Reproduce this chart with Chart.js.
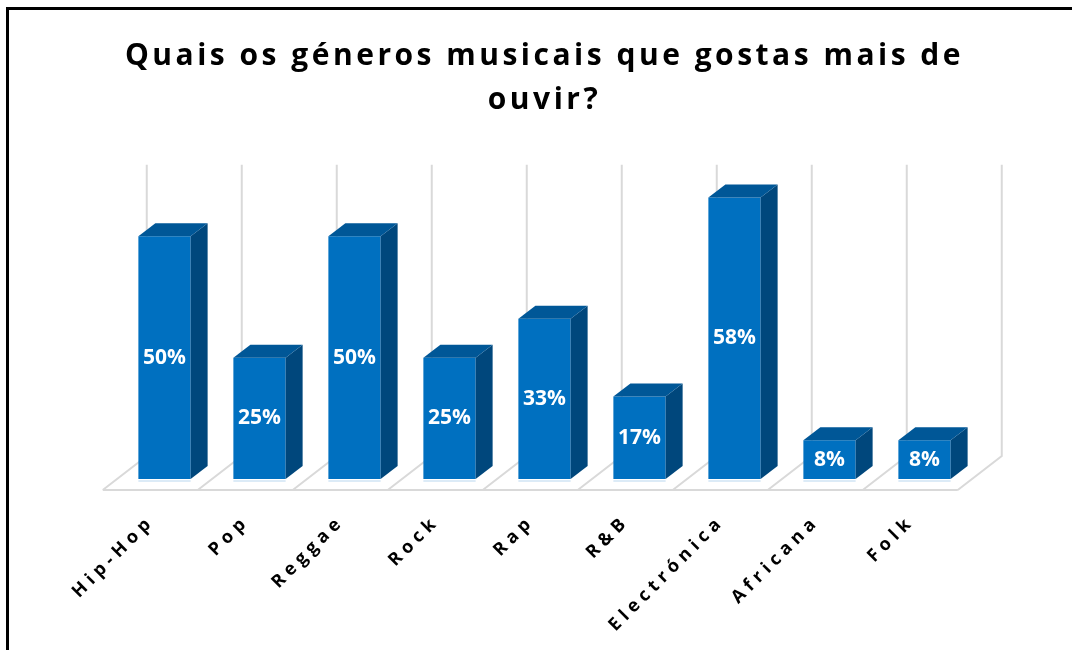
<!DOCTYPE html>
<html>
<head>
<meta charset="utf-8">
<script src="https://cdn.jsdelivr.net/npm/chart.js@4"></script>
<style>
body { margin: 0; background: #fff; }
#wrap { position: relative; width: 1072px; height: 650px; overflow: hidden; }
#frame { position: absolute; left: 6px; top: 7px; width: 1100px; height: 700px; border-left: 3px solid #000; border-top: 3px solid #000; }
#chart { position: absolute; left: 0; top: 0; }
</style>
</head>
<body>
<div id="wrap"><div id="frame"></div><canvas id="chart" width="1072" height="650"></canvas></div>
<script>
'use strict';

var genres = ['Hip-Hop', 'Pop', 'Reggae', 'Rock', 'Rap', 'R&B', 'Electrónica', 'Africana', 'Folk'];
var percents = [50, 25, 50, 25, 33, 17, 58, 8, 8];
var titleLines = ['Quais os géneros musicais que gostas mais de', 'ouvir?'];
var yMax = 60;

// fake 3d: bar depth and floor depth, in px
var depthX = 17, depthY = 13;
var floorFront = 11, floorBack = 23;
var slope = 44 / 34;

var bars3d = {
    id: 'bars3d',
    beforeDraw: function(chart) {
        chart.ctx.letterSpacing = '3.5px';
    },
    beforeDatasetsDraw: function(chart) {
        var ctx = chart.ctx;
        var xs = chart.scales.x, ys = chart.scales.y;
        var base = ys.getPixelForValue(0);
        var top = ys.getPixelForValue(yMax);
        var step = xs.getPixelForValue(1) - xs.getPixelForValue(0);
        var x0 = xs.getPixelForValue(0) - step / 2;
        var fy = base + floorFront, by = base - floorBack;
        var fdx = floorFront * slope, bdx = floorBack * slope;
        ctx.save();
        ctx.strokeStyle = '#d9d9d9';
        ctx.lineWidth = 2;
        ctx.beginPath();
        ctx.moveTo(x0 - fdx, fy);
        ctx.lineTo(x0 + step * genres.length - fdx, fy);
        for (var i = 0; i <= genres.length; i++) {
            var x = x0 + step * i;
            ctx.moveTo(x - fdx, fy);
            ctx.lineTo(x + bdx, by);
            ctx.lineTo(x + bdx, top - floorBack);
        }
        ctx.stroke();
        // faint reflection under each bar
        ctx.strokeStyle = '#dcebf7';
        ctx.lineWidth = 2;
        ctx.beginPath();
        chart.getDatasetMeta(0).data.forEach(function(el) {
            ctx.moveTo(el.x - el.width / 2, base + 2);
            ctx.lineTo(el.x + el.width / 2, base + 2);
        });
        ctx.stroke();
        ctx.restore();
    },
    afterDatasetsDraw: function(chart) {
        var ctx = chart.ctx;
        ctx.save();
        chart.getDatasetMeta(0).data.forEach(function(el, i) {
            var l = el.x - el.width / 2, r = el.x + el.width / 2;
            ctx.fillStyle = '#00477c';
            ctx.beginPath();
            ctx.moveTo(r, el.y);
            ctx.lineTo(r + depthX, el.y - depthY);
            ctx.lineTo(r + depthX, el.base - depthY);
            ctx.lineTo(r, el.base);
            ctx.closePath();
            ctx.fill();
            ctx.fillStyle = '#005797';
            ctx.beginPath();
            ctx.moveTo(l, el.y);
            ctx.lineTo(l + depthX, el.y - depthY);
            ctx.lineTo(r + depthX, el.y - depthY);
            ctx.lineTo(r, el.y);
            ctx.closePath();
            ctx.fill();

            ctx.letterSpacing = '0px';
            ctx.fillStyle = '#ffffff';
            ctx.font = 'bold 21px "Open Sans"';
            ctx.textAlign = 'center';
            ctx.textBaseline = 'middle';
            ctx.fillText(percents[i] + '%', el.x, (el.y + el.base) / 2);
        });
        ctx.restore();
        // tick labels are drawn after this (ticks.z = 1)
        ctx.letterSpacing = '5px';
    },
    afterDraw: function(chart) {
        chart.ctx.letterSpacing = '0px';
    }
};

var chart = new Chart(document.getElementById('chart'), {
    type: 'bar',
    data: {
        labels: genres,
        datasets: [{
            data: percents,
            backgroundColor: '#0070c0',
            borderWidth: 0,
            categoryPercentage: 1,
            barPercentage: 0.55
        }]
    },
    options: {
        responsive: false,
        animation: false,
        layout: { padding: { left: 117, right: 100, top: 0, bottom: 0 } },
        plugins: {
            legend: { display: false },
            tooltip: { enabled: false },
            title: {
                display: true,
                text: titleLines,
                color: '#000',
                font: { family: 'Open Sans', size: 30, weight: 'bold', lineHeight: 1.48 },
                padding: { top: 34, bottom: 65 }
            }
        },
        scales: {
            x: {
                grid: { display: false, drawTicks: false },
                border: { display: false },
                ticks: {
                    z: 1,
                    autoSkip: false,
                    minRotation: 45,
                    maxRotation: 45,
                    padding: 32,
                    labelOffset: -13,
                    color: '#000',
                    font: { family: 'Open Sans', size: 18, weight: 'bold' }
                },
                afterFit: function(scale) { scale.height = 171; }
            },
            y: {
                display: false,
                min: 0,
                max: yMax
            }
        }
    },
    plugins: [bars3d]
});
</script>
</body>
</html>
